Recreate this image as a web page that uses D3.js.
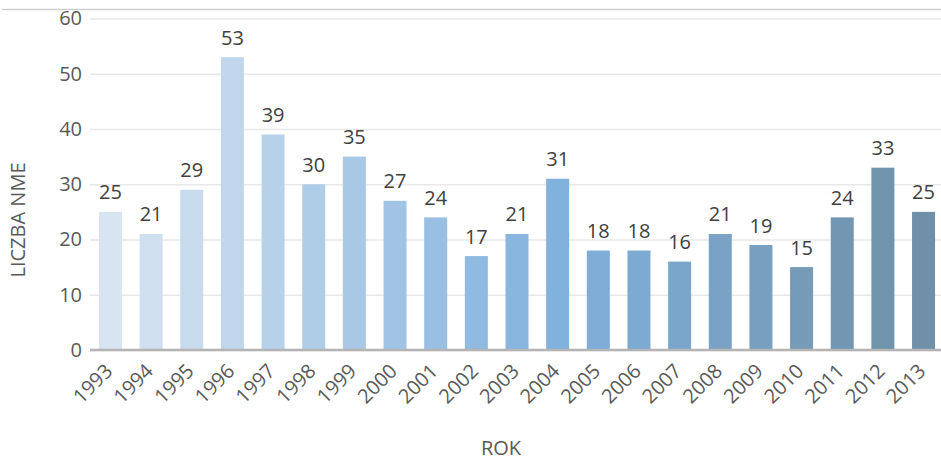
<!DOCTYPE html>
<html>
<head>
<meta charset="utf-8">
<script src="https://d3js.org/d3.v7.min.js"></script>
<style>
  body { margin: 0; background: #fff; }
  text { font-family: "Open Sans", "DejaVu Sans", sans-serif; }
</style>
</head>
<body>
<div id="graph"></div>
<script>
"use strict";

let width = 941,
    height = 460;

const margin = { top: 18.5, left: 90, bottom: 110 };

// chart data
const years = ["1993", "1994", "1995", "1996", "1997", "1998", "1999", "2000", "2001", "2002", "2003",
               "2004", "2005", "2006", "2007", "2008", "2009", "2010", "2011", "2012", "2013"];
const counts = [25, 21, 29, 53, 39, 30, 35, 27, 24, 17, 21, 31, 18, 18, 16, 21, 19, 15, 24, 33, 25];
const yTicks = [0, 10, 20, 30, 40, 50, 60];
const xTitle = "ROK";
const yTitle = "LICZBA NME";

window.onload = function () {
    let svg = d3.select("#graph")
        .append("svg")
        .attr("width", width)
        .attr("height", height);

    let x = d3.scaleBand()
        .domain(years)
        .range([margin.left, margin.left + 854])
        .paddingInner(0.434)
        .paddingOuter(0.22);

    let y = d3.scaleLinear()
        .domain([0, 60])
        .range([height - margin.bottom, margin.top]);

    // light -> mid blue -> greyish blue across the years
    let colour = d3.scaleLinear()
        .domain([0, 11, 20])
        .range(["#d8e4f1", "#81b1dd", "#6f90a7"]);

    // thin frame line at the top
    svg.append("line")
        .attr("x1", 2).attr("x2", width)
        .attr("y1", 9.5).attr("y2", 9.5)
        .attr("stroke", "#cdcdcd")
        .attr("stroke-width", 1.5);

    // gridlines + y labels
    let yAxis = svg.append("g")
        .attr("transform", "translate(" + margin.left + ",0)")
        .call(d3.axisLeft(y).tickValues(yTicks).tickSize(-(width - margin.left)).tickPadding(8));
    yAxis.select(".domain").remove();
    yAxis.selectAll(".tick line")
        .attr("stroke", "#e8e8e8")
        .attr("stroke-width", 1.5);
    yAxis.selectAll(".tick text")
        .attr("fill", "#595959")
        .style("font-size", "20px")
        .style("font-family", "'Open Sans', sans-serif");

    // bars
    svg.append("g").selectAll("rect")
        .data(counts)
        .enter()
        .append("rect")
        .attr("x", (d, i) => x(years[i]))
        .attr("y", d => y(d))
        .attr("width", x.bandwidth())
        .attr("height", d => y(0) - y(d))
        .attr("fill", (d, i) => colour(i));

    // value labels
    svg.append("g").selectAll("text")
        .data(counts)
        .enter()
        .append("text")
        .attr("x", (d, i) => x(years[i]) + x.bandwidth() / 2)
        .attr("y", d => y(d) - 12.5)
        .attr("text-anchor", "middle")
        .attr("fill", "#404040")
        .style("font-size", "20px")
        .text(d => d);

    // x axis line
    svg.append("line")
        .attr("x1", margin.left).attr("x2", width)
        .attr("y1", y(0)).attr("y2", y(0))
        .attr("stroke", "#b4b4b4")
        .attr("stroke-width", 2.5);

    // rotated year labels
    let xAxis = svg.append("g")
        .attr("transform", "translate(0," + y(0) + ")")
        .call(d3.axisBottom(x).tickSize(0));
    xAxis.select(".domain").remove();
    xAxis.selectAll(".tick text")
        .attr("fill", "#595959")
        .style("font-size", "20px")
        .style("font-family", "'Open Sans', sans-serif")
        .attr("text-anchor", "end")
        .attr("dominant-baseline", "central")
        .attr("y", 0).attr("dy", null)
        .attr("transform", "translate(-2,17) rotate(-45)");

    // axis titles
    svg.append("text")
        .attr("x", 501)
        .attr("y", 455)
        .attr("text-anchor", "middle")
        .attr("fill", "#595959")
        .style("font-size", "20px")
        .text(xTitle);

    svg.append("text")
        .attr("transform", "translate(25,220) rotate(-90)")
        .attr("text-anchor", "middle")
        .attr("fill", "#595959")
        .style("font-size", "20px")
        .text(yTitle);
}
</script>
</body>
</html>
